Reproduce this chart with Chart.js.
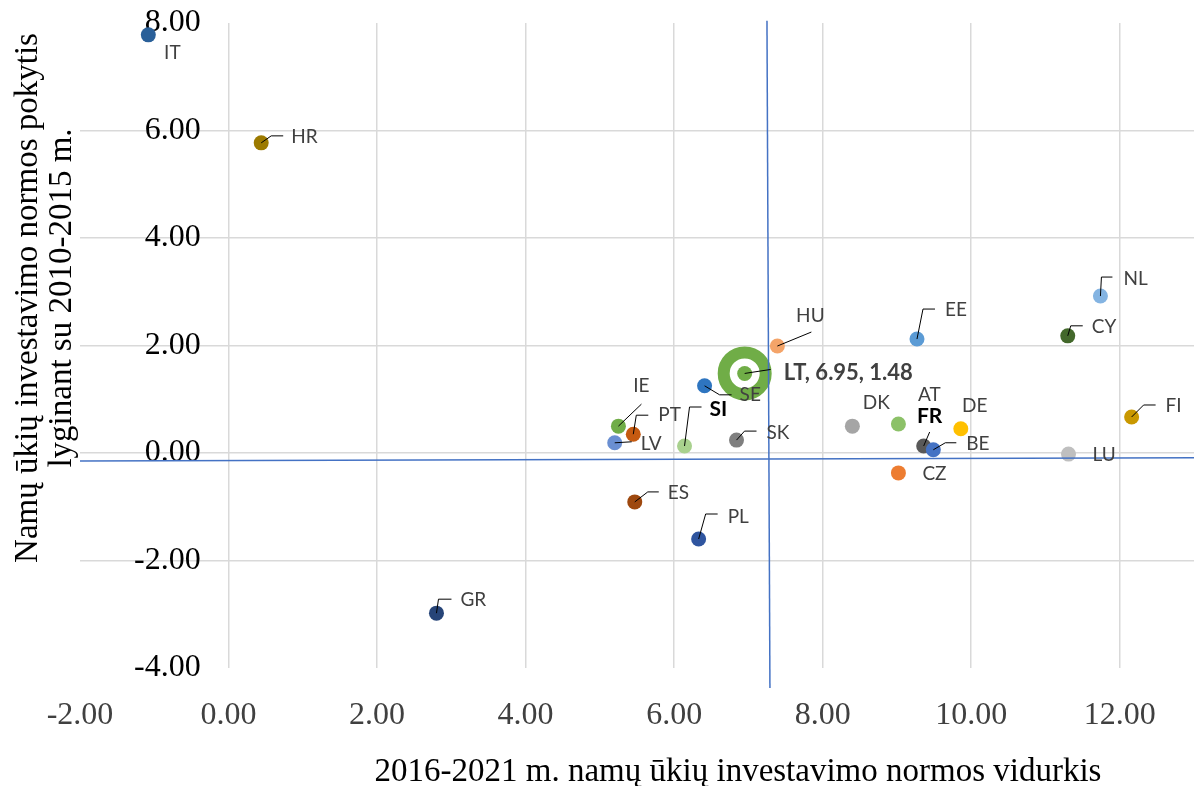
<!DOCTYPE html>
<html lang="lt">
<head>
<meta charset="utf-8">
<title>Namų ūkių investavimo norma</title>
<script src="https://cdn.jsdelivr.net/npm/chart.js@4.4.1/dist/chart.umd.min.js"></script>
<style>
    html, body { margin: 0; padding: 0; background: #fff; overflow: hidden; }
    #chart { display: block; }
</style>
</head>
<body>
<canvas id="chart" width="1194" height="786"></canvas>
<script>
(function() {
    'use strict';

    // Data
    const countries = ['IT', 'HR', 'GR', 'ES', 'PL', 'IE', 'PT', 'LV', 'SI', 'SE', 'SK', 'LT',
        'HU', 'EE', 'DK', 'AT', 'FR', 'BE', 'DE', 'CZ', 'NL', 'CY', 'FI', 'LU'];
    const avgRate = [-1.08, 0.44, 2.80, 5.47, 6.33, 5.25, 5.45, 5.20, 6.14, 6.41, 6.84, 6.95,
        7.39, 9.27, 8.40, 9.02, 9.36, 9.49, 9.86, 9.02, 11.74, 11.30, 12.16, 11.31];
    const rateChange = [7.78, 5.77, -2.98, -0.91, -1.60, 0.50, 0.35, 0.19, 0.13, 1.25, 0.24, 1.48,
        1.99, 2.12, 0.50, 0.54, 0.13, 0.06, 0.45, -0.37, 2.92, 2.18, 0.67, -0.02];

    // EU average lines (vertical and horizontal)
    const meanVertX = [7.25, 7.29];
    const meanVertY = [8.04, -4.37];
    const meanHorX = [-2, 13];
    const meanHorY = [-0.15, -0.09];

    const xTicks = [-2, 0, 2, 4, 6, 8, 10, 12];
    const yTicks = [-4, -2, 0, 2, 4, 6, 8];

    const xTitle = '2016-2021 m. namų ūkių investavimo normos vidurkis';
    const yTitle = ['Namų ūkių investavimo normos pokytis', 'lyginant su 2010-2015 m.'];

    const pointColors = {
        IT: '#2A6099', HR: '#9C7A00', GR: '#264478', ES: '#9E480E', PL: '#2F559F',
        IE: '#70AD47', PT: '#C55A11', LV: '#6A8FD2', SI: '#A9D18E', SE: '#2E75C0',
        SK: '#7F7F7F', LT: '#70AD47', HU: '#F4A469', EE: '#5B9BD5', DK: '#A5A5A5',
        AT: '#8CC168', FR: '#595959', BE: '#4472C4', DE: '#FFC000', CZ: '#ED7D31',
        NL: '#84B4E2', CY: '#43682B', FI: '#C99800', LU: '#BFBFBF'
    };

    // Label placement relative to the point, in pixels; leader = bend points
    const labelLayout = {
        IT: { dx: 24, dy: 18, align: 'center' },
        HR: { dx: 30, dy: -6, leader: [[10, -7], [22, -7]] },
        GR: { dx: 24, dy: -13, leader: [[2, -14], [15, -14]] },
        ES: { dx: 33, dy: -9, leader: [[13, -10], [24, -10]] },
        PL: { dx: 29, dy: -22, leader: [[7, -25], [19, -25]] },
        IE: { dx: 23, dy: -40, align: 'center', leader: [[23, -22]] },
        PT: { dx: 25, dy: -19, leader: [[3, -19], [15, -19]] },
        LV: { dx: 26, dy: 1, leader: [[17, -1]] },
        SI: { dx: 25, dy: -37, strong: true, leader: [[5, -39], [17, -39]] },
        SE: { dx: 35, dy: 9, leader: [[15, 9], [27, 9]] },
        SK: { dx: 30, dy: -7, leader: [[8, -9], [20, -9]] },
        LT: { dx: 39, dy: -1, bold: true, leader: [[26, -4]] },
        HU: { dx: 33, dy: -30, align: 'center', leader: [[34, -14]] },
        EE: { dx: 28, dy: -29, leader: [[6, -30], [18, -30]] },
        DK: { dx: 24, dy: -23, align: 'center' },
        AT: { dx: 31, dy: -29, align: 'center' },
        FR: { dx: 6, dy: -30, align: 'center', strong: true, leader: [[6, -14]] },
        BE: { dx: 33, dy: -6, leader: [[12, -7], [23, -7]] },
        DE: { dx: 14, dy: -23, align: 'center' },
        CZ: { dx: 24, dy: 1 },
        NL: { dx: 23, dy: -17, leader: [[1, -19], [12, -19]] },
        CY: { dx: 24, dy: -9, leader: [[3, -10], [15, -10]] },
        FI: { dx: 34, dy: -11, leader: [[12, -12], [24, -12]] },
        LU: { dx: 24, dy: 1 }
    };

    const GRID = '#D9D9D9';
    const NONE = 'rgba(0,0,0,0)';
    const SERIF = '"Liberation Serif", "Times New Roman", serif';
    const LABEL_FONT = 'Lato, Carlito, Calibri, sans-serif';
    const ltIndex = countries.indexOf('LT');

    const points = countries.map((c, i) => ({ x: avgRate[i], y: rateChange[i] }));

    // Scales must not push the plot area around with their own padding
    function noScalePadding(scale) {
        scale.paddingTop = 0;
        scale.paddingBottom = 0;
        scale.paddingLeft = 0;
        scale.paddingRight = 0;
    }

    // Country labels with leader lines
    const pointLabels = {
        id: 'pointLabels',
        afterDatasetsDraw(chart) {
            const meta = chart.getDatasetMeta(2);
            const ctx = chart.ctx;
            ctx.save();
            meta.data.forEach((pt, i) => {
                const code = countries[i];
                const l = labelLayout[code];
                if (l.leader) {
                    ctx.beginPath();
                    ctx.moveTo(pt.x, pt.y);
                    l.leader.forEach(p => ctx.lineTo(pt.x + p[0], pt.y + p[1]));
                    ctx.strokeStyle = '#000';
                    ctx.lineWidth = 1;
                    ctx.stroke();
                }
                let text = code;
                if (code === 'LT') {
                    text = 'LT, ' + avgRate[i].toFixed(2) + ', ' + rateChange[i].toFixed(2);
                }
                if (l.strong) {
                    ctx.font = 'bold 21px ' + LABEL_FONT;
                    ctx.fillStyle = '#000';
                } else if (l.bold) {
                    ctx.font = 'bold 22px ' + LABEL_FONT;
                    ctx.fillStyle = '#404040';
                } else {
                    ctx.font = '19px ' + LABEL_FONT;
                    ctx.fillStyle = '#404040';
                }
                ctx.textAlign = l.align || 'left';
                ctx.textBaseline = 'middle';
                ctx.fillText(text, pt.x + l.dx, pt.y + l.dy);
            });
            ctx.restore();
        }
    };

    // Axis titles sit off-centre in the original, so they are placed by hand
    const axisTitles = {
        id: 'axisTitles',
        afterDraw(chart) {
            const ctx = chart.ctx;
            ctx.save();
            ctx.font = '33px ' + SERIF;
            ctx.fillStyle = '#000';
            ctx.textAlign = 'center';
            ctx.textBaseline = 'middle';
            ctx.fillText(xTitle, 738, 772);
            ctx.translate(28, 298);
            ctx.rotate(-Math.PI / 2);
            ctx.fillText(yTitle[0], 0, 0);
            ctx.fillText(yTitle[1], 0, 34);
            ctx.restore();
        }
    };

    new Chart(document.getElementById('chart'), {
        type: 'scatter',
        data: {
            datasets: [
                {
                    label: 'Vidurkis',
                    data: [
                        { x: meanVertX[0], y: meanVertY[0] },
                        { x: meanVertX[1], y: meanVertY[1] }
                    ],
                    showLine: true,
                    borderColor: '#4472C4',
                    borderWidth: 1.5,
                    pointRadius: 0,
                    clip: false,
                    order: 0
                },
                {
                    label: 'Vidurkis',
                    data: [
                        { x: meanHorX[0], y: meanHorY[0] },
                        { x: meanHorX[1], y: meanHorY[1] }
                    ],
                    showLine: true,
                    borderColor: '#4472C4',
                    borderWidth: 1.5,
                    pointRadius: 0,
                    clip: false,
                    order: 0
                },
                {
                    label: 'Šalys',
                    data: points,
                    pointRadius: countries.map(c => c === 'LT' ? 21 : 7.5),
                    pointBorderWidth: countries.map(c => c === 'LT' ? 12 : 0),
                    pointBackgroundColor: countries.map(c => c === 'LT' ? '#fff' : pointColors[c]),
                    pointBorderColor: countries.map(c => pointColors[c]),
                    clip: false,
                    order: 2
                },
                {
                    label: 'LT',
                    data: [points[ltIndex]],
                    pointRadius: 7.5,
                    pointBorderWidth: 0,
                    pointBackgroundColor: pointColors.LT,
                    order: 1
                }
            ]
        },
        options: {
            responsive: false,
            animation: false,
            layout: { autoPadding: false, padding: { left: 80, top: 23, right: 0, bottom: 52 } },
            plugins: {
                legend: { display: false },
                tooltip: { enabled: false }
            },
            scales: {
                x: {
                    type: 'linear',
                    position: 'bottom',
                    min: -2,
                    max: 13,
                    afterBuildTicks: scale => { scale.ticks = xTicks.map(v => ({ value: v })); },
                    afterFit: scale => {
                        scale.height = 66;
                        noScalePadding(scale);
                    },
                    border: { display: false },
                    grid: {
                        color: c => (c.tick && c.tick.value === -2) ? NONE : GRID,
                        lineWidth: 1.5,
                        drawTicks: false
                    },
                    ticks: {
                        padding: 28,
                        maxRotation: 0,
                        color: '#404040',
                        font: { family: SERIF, size: 32 },
                        callback: v => v.toFixed(2)
                    }
                },
                y: {
                    type: 'linear',
                    position: 'left',
                    min: -4,
                    max: 8,
                    afterBuildTicks: scale => { scale.ticks = yTicks.map(v => ({ value: v })); },
                    afterFit: scale => {
                        scale.width = 0;
                        noScalePadding(scale);
                    },
                    border: { display: false },
                    grid: {
                        color: c => (c.tick && (c.tick.value === 8 || c.tick.value === -4)) ? NONE : GRID,
                        lineWidth: 1.5,
                        drawTicks: false
                    },
                    ticks: {
                        mirror: true,
                        crossAlign: 'far',
                        padding: 54,
                        color: '#000',
                        font: { family: SERIF, size: 32 },
                        callback: v => v.toFixed(2)
                    }
                }
            }
        },
        plugins: [pointLabels, axisTitles]
    });
})();
</script>
</body>
</html>
